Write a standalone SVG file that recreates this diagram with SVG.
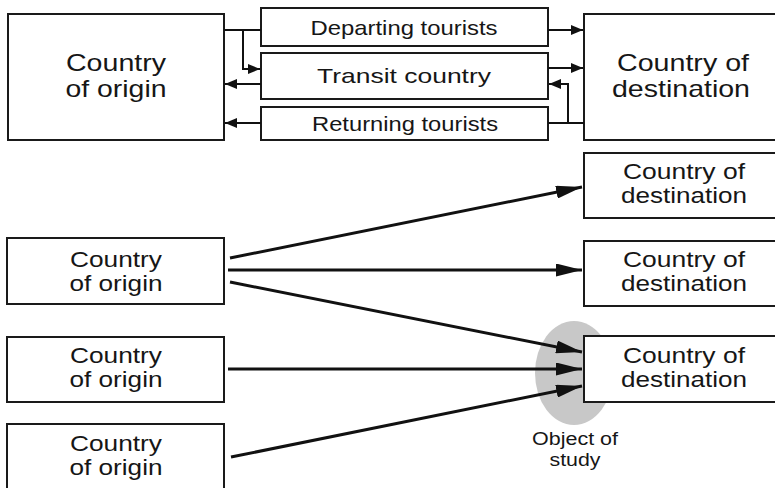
<svg xmlns="http://www.w3.org/2000/svg" width="775" height="488" viewBox="0 0 775 488">
<defs>
<style>
.box{fill:#fff;stroke:#1a1a1a;stroke-width:2}
.t{font-family:"Liberation Sans",Arial,sans-serif;fill:#161616;text-anchor:middle}
.big{font-size:24px}
.mid{font-size:21px}
.sm{font-size:22px}
.note{font-size:18px}
.c1{fill:none;stroke:#111;stroke-width:2}
.c2{fill:none;stroke:#111;stroke-width:3}
</style>
<marker id="ah" markerUnits="userSpaceOnUse" viewBox="0 0 12 10" refX="12" refY="5" markerWidth="12" markerHeight="10" orient="auto">
<path d="M0,0 L12,5 L0,10 Z" fill="#111"/>
</marker>
<marker id="ahb" markerUnits="userSpaceOnUse" viewBox="0 0 26 13" refX="26" refY="6.5" markerWidth="26" markerHeight="13" orient="auto">
<path d="M0,0 L26,6.5 L0,13 Z" fill="#111"/>
</marker>
</defs>
<rect width="775" height="488" fill="#fff"/>
<ellipse cx="574" cy="373" rx="39" ry="52" fill="#c8c8c8"/>
<g id="origin-top"><rect class="box" x="8" y="14" width="216" height="126"/><text class="t big" x="116" y="71" textLength="100" lengthAdjust="spacingAndGlyphs">Country</text><text class="t big" x="116" y="97" textLength="101" lengthAdjust="spacingAndGlyphs">of origin</text></g>
<g id="departing"><rect class="box" x="261" y="8" width="287" height="38"/><text class="t mid" x="404" y="35" textLength="187" lengthAdjust="spacingAndGlyphs">Departing tourists</text></g>
<g id="transit"><rect class="box" x="261" y="53" width="287" height="46"/><text class="t mid" x="404" y="83" textLength="174" lengthAdjust="spacingAndGlyphs">Transit country</text></g>
<g id="returning"><rect class="box" x="261" y="107" width="287" height="33"/><text class="t mid" x="405" y="131" textLength="186" lengthAdjust="spacingAndGlyphs">Returning tourists</text></g>
<g id="dest-top"><rect class="box" x="584" y="14" width="200" height="126"/><text class="t big" x="683" y="71" textLength="132" lengthAdjust="spacingAndGlyphs">Country of</text><text class="t big" x="681" y="97" textLength="138" lengthAdjust="spacingAndGlyphs">destination</text></g>
<g id="origin-1"><rect class="box" x="7" y="238" width="217" height="66"/><text class="t sm" x="116" y="267" textLength="92" lengthAdjust="spacingAndGlyphs">Country</text><text class="t sm" x="116" y="291" textLength="93" lengthAdjust="spacingAndGlyphs">of origin</text></g>
<g id="origin-2"><rect class="box" x="7" y="337" width="217" height="65"/><text class="t sm" x="116" y="363" textLength="92" lengthAdjust="spacingAndGlyphs">Country</text><text class="t sm" x="116" y="387" textLength="93" lengthAdjust="spacingAndGlyphs">of origin</text></g>
<g id="origin-3"><rect class="box" x="7" y="424" width="217" height="70"/><text class="t sm" x="116" y="451" textLength="92" lengthAdjust="spacingAndGlyphs">Country</text><text class="t sm" x="116" y="475" textLength="93" lengthAdjust="spacingAndGlyphs">of origin</text></g>
<g id="dest-1"><rect class="box" x="584" y="153" width="200" height="65"/><text class="t sm" x="684" y="179" textLength="122" lengthAdjust="spacingAndGlyphs">Country of</text><text class="t sm" x="684" y="203" textLength="126" lengthAdjust="spacingAndGlyphs">destination</text></g>
<g id="dest-2"><rect class="box" x="584" y="241" width="200" height="65"/><text class="t sm" x="684" y="267" textLength="122" lengthAdjust="spacingAndGlyphs">Country of</text><text class="t sm" x="684" y="291" textLength="126" lengthAdjust="spacingAndGlyphs">destination</text></g>
<g id="dest-3"><rect class="box" x="584" y="336" width="200" height="66"/><text class="t sm" x="684" y="363" textLength="122" lengthAdjust="spacingAndGlyphs">Country of</text><text class="t sm" x="684" y="387" textLength="126" lengthAdjust="spacingAndGlyphs">destination</text></g>
<g id="note"><text class="t note" x="575" y="445" textLength="86" lengthAdjust="spacingAndGlyphs">Object of</text><text class="t note" x="575" y="466" textLength="51" lengthAdjust="spacingAndGlyphs">study</text></g>
<g id="connectors">
<path class="c1" d="M224,30 H261"/>
<path class="c1" d="M243,30 V69 H260" marker-end="url(#ah)"/>
<path class="c1" d="M261,84 H225" marker-end="url(#ah)"/>
<path class="c1" d="M261,123 H225" marker-end="url(#ah)"/>
<path class="c1" d="M548,30 H583" marker-end="url(#ah)"/>
<path class="c1" d="M548,68 H583" marker-end="url(#ah)"/>
<path class="c1" d="M584,123 H548"/>
<path class="c1" d="M568,123 V84 H549" marker-end="url(#ah)"/>
<path class="c2" d="M230,258 L582,187" marker-end="url(#ahb)"/>
<path class="c2" d="M228,270 L582,270" marker-end="url(#ahb)"/>
<path class="c2" d="M230,282 L582,352" marker-end="url(#ahb)"/>
<path class="c2" d="M228,369 L582,369" marker-end="url(#ahb)"/>
<path class="c2" d="M231,457 L582,386" marker-end="url(#ahb)"/>
</g>
</svg>
